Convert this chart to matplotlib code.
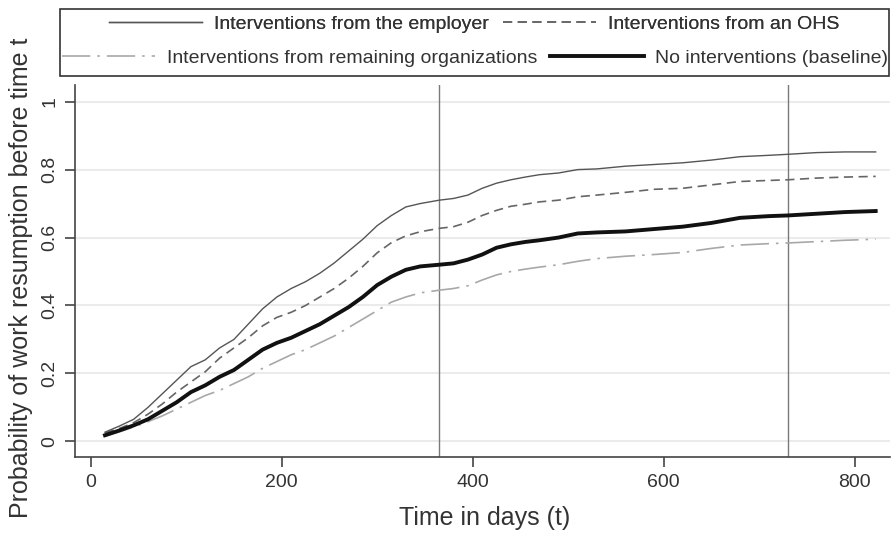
import matplotlib
matplotlib.use("Agg")
import matplotlib.pyplot as plt
from matplotlib.lines import Line2D
from matplotlib.patches import Rectangle

plt.rcParams['font.family'] = ['Liberation Sans', 'DejaVu Sans']

days = [15, 30, 45, 60, 75, 90, 105, 120, 135, 150, 165, 180, 195, 210, 225, 240,
        255, 270, 285, 300, 315, 330, 345, 365, 380, 395, 410, 425, 440, 455, 470,
        490, 510, 530, 560, 590, 620, 650, 680, 710, 730, 760, 790, 822]

employer = [0.027, 0.045, 0.065, 0.10, 0.14, 0.18, 0.22, 0.24, 0.275, 0.30, 0.345, 0.39,
            0.425, 0.45, 0.47, 0.495, 0.525, 0.56, 0.595, 0.635, 0.665, 0.69, 0.70, 0.71,
            0.715, 0.725, 0.745, 0.76, 0.77, 0.778, 0.785, 0.79, 0.80, 0.802, 0.81, 0.815,
            0.82, 0.828, 0.838, 0.842, 0.845, 0.85, 0.852, 0.852]

ohs = [0.025, 0.038, 0.055, 0.08, 0.11, 0.145, 0.175, 0.205, 0.245, 0.275, 0.305, 0.34,
       0.365, 0.38, 0.40, 0.425, 0.45, 0.48, 0.515, 0.555, 0.585, 0.605, 0.617, 0.627,
       0.632, 0.645, 0.665, 0.68, 0.692, 0.698, 0.705, 0.71, 0.72, 0.725, 0.733, 0.742,
       0.745, 0.755, 0.765, 0.768, 0.77, 0.775, 0.778, 0.78]

remaining = [0.015, 0.028, 0.042, 0.058, 0.075, 0.095, 0.115, 0.135, 0.15, 0.17, 0.19,
             0.215, 0.235, 0.255, 0.27, 0.29, 0.31, 0.335, 0.36, 0.385, 0.41, 0.425, 0.437,
             0.445, 0.45, 0.458, 0.475, 0.49, 0.50, 0.507, 0.513, 0.52, 0.53, 0.538, 0.545,
             0.55, 0.556, 0.568, 0.578, 0.582, 0.584, 0.588, 0.592, 0.595]

baseline = [0.018, 0.032, 0.047, 0.065, 0.09, 0.115, 0.145, 0.165, 0.19, 0.21, 0.24, 0.27,
            0.29, 0.305, 0.325, 0.345, 0.37, 0.395, 0.425, 0.46, 0.485, 0.505, 0.515, 0.52,
            0.524, 0.535, 0.55, 0.57, 0.58, 0.587, 0.592, 0.60, 0.612, 0.615, 0.618, 0.625,
            0.632, 0.643, 0.658, 0.663, 0.665, 0.67, 0.675, 0.678]

vlines = [365, 730]
xticks = [0, 200, 400, 600, 800]
yticks = [0, 0.2, 0.4, 0.6, 0.8, 1.0]
yticklabels = ["0", "0.2", "0.4", "0.6", "0.8", "1"]

labels = ["Interventions from the employer", "Interventions from an OHS",
          "Interventions from remaining organizations", "No interventions (baseline)"]

W, H = 892, 534
fig = plt.figure(figsize=(W / 100, H / 100), dpi=100)
ax = fig.add_axes([75 / W, (H - 457) / H, 815 / W, 372 / H])

txt = '#333333'
for y in yticks:
    ax.axhline(y, color='#ebebeb', lw=1.5, zorder=0)
for v in vlines:
    ax.axvline(v, color='#7a7a7a', lw=1.0, zorder=1)

st_emp = dict(color='#555555', lw=1.0, ls='-')
st_ohs = dict(color='#666666', lw=1.2, ls=(0, (5.5, 3.3)))
st_rem = dict(color='#a8a8a8', lw=1.2, ls=(0, (17, 4.2, 1.5, 4.2)))
st_base = dict(color='#111111', lw=2.8, ls='-')

ax.plot(days, remaining, zorder=2, **st_rem)
ax.plot(days, ohs, zorder=3, **st_ohs)
ax.plot(days, employer, zorder=3, **st_emp)
ax.plot(days, baseline, zorder=4, **st_base)

ax.set_xlim(-16.4, 837)
ax.set_ylim(-0.046, 1.049)
ax.set_xticks(xticks)
ax.set_yticks(yticks)
ax.set_yticklabels(yticklabels)
ax.tick_params(axis='both', labelsize=14, colors='#444444', labelcolor=txt,
               length=7, width=1.2, pad=5)
ax.tick_params(axis='y', labelrotation=90)
for lab in ax.get_yticklabels():
    lab.set_va('center')
for s in ['top', 'right']:
    ax.spines[s].set_visible(False)
for s in ['left', 'bottom']:
    ax.spines[s].set_color('#444444')
    ax.spines[s].set_linewidth(1.2)

ax.set_xlabel("Time in days (t)", fontsize=18, color=txt)
ax.set_ylabel("Probability of work resumption before time t", fontsize=18, color=txt)
ax.xaxis.set_label_coords(0.502, -0.132)
ax.yaxis.set_label_coords(-0.051, 0.481)

# legend box
fig.patches.append(Rectangle((60 / W, (H - 76) / H), 829 / W, 67 / H,
                             transform=fig.transFigure, fill=False,
                             edgecolor='#333333', lw=1.2))
h_emp = Line2D([], [], **st_emp)
h_ohs = Line2D([], [], **st_ohs)
h_rem = Line2D([], [], **st_rem)
h_base = Line2D([], [], **st_base)
common = dict(loc='center', ncol=2, frameon=False, fontsize=14, handlelength=4.8,
              handletextpad=0.6, columnspacing=0.7, borderpad=0, labelcolor=txt)
leg1 = fig.legend([h_emp, h_ohs], labels[:2],
                  bbox_to_anchor=(474 / W, (H - 24) / H), **common)
fig.add_artist(leg1)
leg2 = fig.legend([h_rem, h_base], labels[2:],
                  bbox_to_anchor=(475 / W, (H - 58) / H), **common)

fig.savefig("out.png", dpi=100)
